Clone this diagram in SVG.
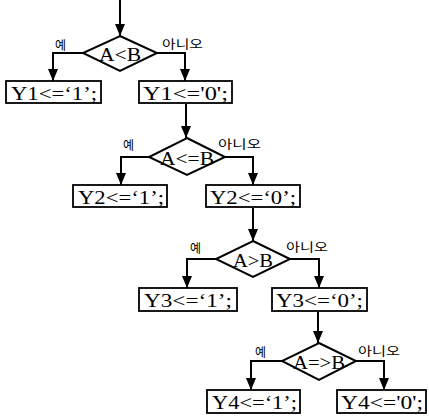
<svg xmlns="http://www.w3.org/2000/svg" width="429" height="419" viewBox="0 0 429 419">
<style>
.ln{fill:none;stroke:#000;stroke-width:2}
.bx{fill:#fff;stroke:#000;stroke-width:1.8}
.dm{fill:#fff;stroke:#000;stroke-width:2}
.t{font-family:"Liberation Serif",serif;font-size:19px;fill:#000}
.k{font-family:"Noto Sans CJK KR","Noto Sans",sans-serif;font-size:12px;fill:#000}
</style>
<defs>
<marker id="ah" viewBox="0 0 12 10" refX="12" refY="5" markerWidth="12" markerHeight="10" orient="auto" markerUnits="userSpaceOnUse">
<path d="M0,0 L12,5 L0,10 z" fill="#000"/>
</marker>
</defs>
<g id="connectors">
<path class="ln" d="M120,0 V36" marker-end="url(#ah)"/>
<path class="ln" d="M83,53 H53 V81" marker-end="url(#ah)"/>
<path class="ln" d="M157,53 H185 V81" marker-end="url(#ah)"/>
<path class="ln" d="M186,104 V138" marker-end="url(#ah)"/>
<path class="ln" d="M149,157 H121 V185" marker-end="url(#ah)"/>
<path class="ln" d="M225,157 H253 V185" marker-end="url(#ah)"/>
<path class="ln" d="M253,208 V241" marker-end="url(#ah)"/>
<path class="ln" d="M216,259 H187 V288" marker-end="url(#ah)"/>
<path class="ln" d="M290,259 H319 V288" marker-end="url(#ah)"/>
<path class="ln" d="M318,312 V343" marker-end="url(#ah)"/>
<path class="ln" d="M282,361 H251 V390" marker-end="url(#ah)"/>
<path class="ln" d="M356,361 H384 V390" marker-end="url(#ah)"/>
</g>
<g id="d1">
<polygon class="dm" points="120,36 157,53 120,71 83,53"/>
<text class="t" x="120" y="61" text-anchor="middle" textLength="42" lengthAdjust="spacingAndGlyphs">A&lt;B</text>
<text class="k" x="55" y="50">예</text>
<text class="k" x="162" y="49" textLength="41" lengthAdjust="spacingAndGlyphs">아니오</text>
</g>
<g id="b1l">
<rect class="bx" x="6" y="81" width="95" height="22"/>
<text class="t" x="11" y="100" textLength="86" lengthAdjust="spacingAndGlyphs">Y1&lt;=‘1’;</text>
</g>
<g id="b1r">
<rect class="bx" x="139" y="81" width="93" height="22"/>
<text class="t" x="143" y="100" textLength="85" lengthAdjust="spacingAndGlyphs">Y1&lt;='0';</text>
</g>
<g id="d2">
<polygon class="dm" points="187,138 225,157 187,175 149,157"/>
<text class="t" x="187" y="165" text-anchor="middle" textLength="54" lengthAdjust="spacingAndGlyphs">A&lt;=B</text>
<text class="k" x="123" y="150">예</text>
<text class="k" x="218" y="149" textLength="43" lengthAdjust="spacingAndGlyphs">아니오</text>
</g>
<g id="b2l">
<rect class="bx" x="73" y="185" width="94" height="22"/>
<text class="t" x="78" y="204" textLength="86" lengthAdjust="spacingAndGlyphs">Y2&lt;=‘1’;</text>
</g>
<g id="b2r">
<rect class="bx" x="206" y="185" width="94" height="22"/>
<text class="t" x="210" y="204" textLength="86" lengthAdjust="spacingAndGlyphs">Y2&lt;=‘0’;</text>
</g>
<g id="d3">
<polygon class="dm" points="253,241 290,259 253,277 216,259"/>
<text class="t" x="253" y="267" text-anchor="middle" textLength="40" lengthAdjust="spacingAndGlyphs">A&gt;B</text>
<text class="k" x="190" y="253">예</text>
<text class="k" x="286" y="252" textLength="42" lengthAdjust="spacingAndGlyphs">아니오</text>
</g>
<g id="b3l">
<rect class="bx" x="139" y="288" width="98" height="23"/>
<text class="t" x="144" y="307" textLength="88" lengthAdjust="spacingAndGlyphs">Y3&lt;=‘1’;</text>
</g>
<g id="b3r">
<rect class="bx" x="272" y="288" width="95" height="23"/>
<text class="t" x="276" y="307" textLength="87" lengthAdjust="spacingAndGlyphs">Y3&lt;=‘0’;</text>
</g>
<g id="d4">
<polygon class="dm" points="319,343 356,361 319,380 282,361"/>
<text class="t" x="319" y="369" text-anchor="middle" textLength="52" lengthAdjust="spacingAndGlyphs">A=&gt;B</text>
<text class="k" x="255" y="357">예</text>
<text class="k" x="358" y="356" textLength="42" lengthAdjust="spacingAndGlyphs">아니오</text>
</g>
<g id="b4l">
<rect class="bx" x="207" y="390" width="93" height="23"/>
<text class="t" x="212" y="409" textLength="85" lengthAdjust="spacingAndGlyphs">Y4&lt;=‘1’;</text>
</g>
<g id="b4r">
<rect class="bx" x="337" y="390" width="89" height="23"/>
<text class="t" x="341" y="409" textLength="82" lengthAdjust="spacingAndGlyphs">Y4&lt;='0';</text>
</g>
</svg>
